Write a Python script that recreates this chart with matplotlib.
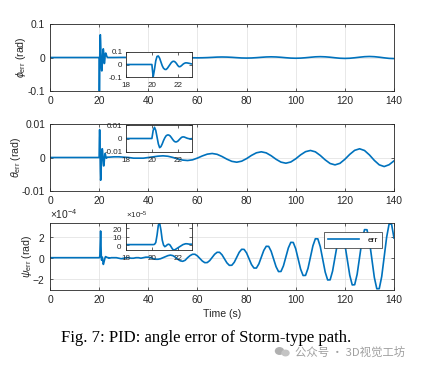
import numpy as np
import matplotlib
matplotlib.use("Agg")
import matplotlib.pyplot as plt
from matplotlib.patches import Ellipse
from matplotlib.ticker import ScalarFormatter

plt.rcParams['font.family'] = ['Liberation Sans', 'DejaVu Sans']
plt.rcParams['mathtext.fontset'] = 'custom'
plt.rcParams['mathtext.rm'] = 'Liberation Sans'
plt.rcParams['mathtext.it'] = 'Liberation Sans:italic'
plt.rcParams['axes.unicode_minus'] = False

# ---------------- data ----------------
# transient part, 0.1 s step from 20.0 s to 23.9 s
t_fast = np.round(np.arange(20.0, 23.95, 0.1), 1)
# slow part: 2 s step (phi, theta) and 1 s step (psi)
t_slow2 = np.arange(24, 141, 2)
t_slow1 = np.arange(24, 141, 1)

phi_fast = [0, -0.1, -0.04, 0.03, 0.065, 0.068, 0.05, 0.02, -0.01, -0.03,
            -0.039, -0.04, -0.03, -0.015, 0.0, 0.015, 0.024, 0.026, 0.02, 0.008,
            -0.008, -0.018, -0.016, -0.008, 0.002, 0.009, 0.013, 0.013, 0.011, 0.009,
            0.006, 0.004, 0.002, 0.001, 0, 0, 0, 0, 0, 0]
phi_slow = [0, 0, 0.0002, 0.0003, 0.0002, 0, -0.0002, -0.0003, -0.0003, -0.0002,
            -0.0001, 0.0002, 0.0005, 0.0006, 0.0005, 0.0002, -0.0003, -0.0008, -0.001, -0.0008,
            -0.0003, 0.0004, 0.0012, 0.0015, 0.0012, 0.0005, -0.0005, -0.0014, -0.0017, -0.0014,
            -0.0005, 0.0006, 0.0016, 0.002, 0.0016, 0.0006, -0.0007, -0.0018, -0.0022, -0.0018,
            -0.0007, 0.0007, 0.002, 0.0025, 0.002, 0.0008, -0.0008, -0.0022, -0.0027, -0.0022,
            -0.0008, 0.0009, 0.0024, 0.003, 0.0024, 0.0009, -0.001, -0.0026, -0.0032]

theta_fast = [0, 0.006, 0.0083, 0.006, 0.001, -0.004, -0.0068, -0.006, -0.004, -0.0015,
              0.0005, 0.002, 0.0026, 0.0026, 0.002, 0.0008, -0.0006, -0.0018, -0.0025, -0.0025,
              -0.002, -0.001, 0.0, 0.0009, 0.0012, 0.0011, 0.0007, 0.0003, 0.0, -0.0002,
              -0.0002, -0.0001, 0.0, 0.0001, 0.0001, 0.0001, 0.0001, 0.0001, 0.0001, 0.0001]
theta_slow = [0.0001, 0.0002, 0.0002, 0.0001, 0.0, -0.0002, -0.0002, -0.0002, 0.0, 0.0002,
              0.0004, 0.0005, 0.00037, 0.00002, -0.00042, -0.00077, -0.0009, -0.0007, -0.00017, 0.00047,
              0.001, 0.0012, 0.00095, 0.0003, -0.0005, -0.00115, -0.0014, -0.0011, -0.00033, 0.00063,
              0.0014, 0.0017, 0.00138, 0.00053, -0.00053, -0.00138, -0.0017, -0.00134, -0.00039, 0.00079,
              0.00174, 0.0021, 0.00169, 0.00061, -0.00071, -0.00179, -0.0022, -0.00174, -0.00054, 0.00094,
              0.00214, 0.0026, 0.00209, 0.00077, -0.00087, -0.00219, -0.0027, -0.00216, -0.001]

# psi in units of 1e-4 rad
psi_fast = [0.05, 0.05, 0.08, 0.3, 1.2, 2.4, 2.63, 1.8, 0.6, 0.0,
            -0.2, -0.1, 0.05, 0.1, 0.0, -0.25, -0.5, -0.6, -0.55, -0.45,
            -0.35, -0.25, -0.15, -0.05, 0.05, 0.1, 0.15, 0.15, 0.12, 0.1,
            0.1, 0.1, 0.08, 0.07, 0.06, 0.05, 0.05, 0.05, 0.05, 0.05]
psi_slow = [0.0, 0.05, 0.05, 0.05, 0.0, -0.05, 0.0, 0.05, 0.05, 0.0,
            0.0, 0.05, 0.05, 0.0, 0.05, 0.1, 0.1, 0.05, -0.05, -0.1,
            -0.1, -0.05, 0.05, 0.15, 0.25, 0.3, 0.25, 0.1, -0.1, -0.25,
            -0.3, -0.2, 0.05, 0.25, 0.38, 0.38, 0.22, -0.025, -0.275, -0.43,
            -0.42, -0.23, 0.075, 0.38, 0.57, 0.57, 0.33, -0.06, -0.45, -0.69,
            -0.68, -0.39, 0.09, 0.57, 0.86, 0.85, 0.51, -0.05, -0.61, -0.95,
            -0.95, -0.55, 0.1, 0.75, 1.15, 1.14, 0.67, -0.075, -0.82, -1.29,
            -1.28, -0.74, 0.125, 0.99, 1.53, 1.52, 0.91, -0.075, -1.06, -1.67,
            -1.66, -0.98, 0.11, 1.2, 1.88, 1.87, 1.11, -0.115, -1.34, -2.1,
            -2.09, -1.25, 0.1, 1.45, 2.29, 2.28, 1.35, -0.15, -1.65, -2.58,
            -2.56, -1.55, 0.1, 1.75, 2.76, 2.75, 1.66, -0.1, -1.86, -2.95,
            -2.94, -1.77, 0.125, 2.02, 3.3, 3.3, 1.94]

t_phi = np.concatenate([[0.0], t_fast, t_slow2])
phi = np.concatenate([[0.0], phi_fast, phi_slow])
t_theta = np.concatenate([[0.0], t_fast, t_slow2])
theta = np.concatenate([[0.0], theta_fast, theta_slow])
t_psi = np.concatenate([[0.0], t_fast, t_slow1])
psi = np.concatenate([[0.05], psi_fast, psi_slow]) * 1e-4

LINE = '#0072BD'
EDGE = '#262626'
GRID = '#dedede'
FS = 7.4
FS_INSET = 5.8


def style_axes(ax, grid=True, size=FS):
    for sp in ax.spines.values():
        sp.set_color(EDGE)
        sp.set_linewidth(0.6)
    ax.tick_params(direction='in', length=2.5, width=0.5, colors=EDGE,
                   labelsize=size, top=True, right=True, pad=3.5)
    if grid:
        ax.grid(True, color=GRID, linewidth=0.5)
        ax.set_axisbelow(True)


fig = plt.figure(figsize=(4.21, 3.69), dpi=100)
W, H = 421.0, 369.0


def px_axes(x0, y0, x1, y1):
    return fig.add_axes([x0 / W, 1 - y1 / H, (x1 - x0) / W, (y1 - y0) / H])


ax1 = px_axes(50, 24, 394, 91)
ax2 = px_axes(50, 124, 394, 191)
ax3 = px_axes(50, 223, 394, 290)

panels = [
    (ax1, t_phi, phi, (-0.1, 0.1), [-0.1, 0, 0.1], ['-0.1', '0', '0.1'],
     r'$\phi_{\rm err}$ (rad)', -0.063),
    (ax2, t_theta, theta, (-0.01, 0.01), [-0.01, 0, 0.01], ['-0.01', '0', '0.01'],
     r'$\theta_{\rm err}$ (rad)', -0.078),
    (ax3, t_psi, psi, (-3.07e-4, 3.4e-4), [-2e-4, 0, 2e-4], None,
     r'$\psi_{\rm err}$ (rad)', -0.047),
]

for ax, t, y, ylim, yt, ytl, ylab, lx in panels:
    ax.plot(t, y, color=LINE, linewidth=1.2, label='err')
    ax.set_xlim(0, 140)
    ax.set_ylim(*ylim)
    ax.set_xticks(np.arange(0, 141, 20))
    ax.set_yticks(yt)
    if ytl is not None:
        ax.set_yticklabels(ytl)
    style_axes(ax)
    ax.set_ylabel(ylab, fontsize=7.6, color=EDGE)
    ax.yaxis.set_label_coords(lx, 0.5)

fmt = ScalarFormatter(useMathText=True)
fmt.set_powerlimits((-4, -4))
ax3.yaxis.set_major_formatter(fmt)
ax3.yaxis.get_offset_text().set_fontsize(FS)
ax3.yaxis.get_offset_text().set_color(EDGE)
ax3.set_xlabel('Time (s)', fontsize=7.6, color=EDGE, labelpad=3)

leg = ax3.legend(loc='upper right', bbox_to_anchor=(0.977, 0.925), fontsize=6,
                 handlelength=3.8, fancybox=False, framealpha=1, edgecolor=EDGE,
                 borderpad=0.45, handletextpad=1.0)
leg.get_frame().set_linewidth(0.5)

# insets
ins1 = px_axes(126, 52, 192, 77)
ins2 = px_axes(126, 125, 192, 152)
ins3 = px_axes(126, 223, 192, 250)

insets = [
    (ins1, t_phi, phi, (-0.1, 0.1), [-0.1, 0, 0.1], ['-0.1', '0', '0.1']),
    (ins2, t_theta, theta, (-0.01, 0.01), [-0.01, 0, 0.01], ['-0.01', '0', '0.01']),
    (ins3, t_psi, psi, (-6e-5, 26.5e-5), [0, 1e-4, 2e-4], None),
]
for ax, t, y, ylim, yt, ytl in insets:
    ax.plot(t, y, color=LINE, linewidth=1.2)
    ax.set_xlim(18, 23.1)
    ax.set_ylim(*ylim)
    ax.set_xticks([18, 20, 22])
    ax.set_yticks(yt)
    if ytl is not None:
        ax.set_yticklabels(ytl)
    ax.set_facecolor('white')
    style_axes(ax, grid=False, size=FS_INSET)
    ax.tick_params(axis='y', pad=2.5)

fmt5 = ScalarFormatter(useMathText=True)
fmt5.set_powerlimits((-5, -5))
ins3.yaxis.set_major_formatter(fmt5)
ins3.yaxis.get_offset_text().set_fontsize(FS_INSET)
ins3.yaxis.get_offset_text().set_color(EDGE)

fig.text(0.49, (H - 338) / H, 'Fig. 7: PID: angle error of Storm-type path.',
         ha='center', va='center', fontsize=12, family='Liberation Serif')
fig.text(0.831, (H - 352) / H, '公众号 · 3D视觉工坊', ha='center', va='center',
         fontsize=8.2, color='#a0a0a0', family=['Noto Sans CJK SC', 'DejaVu Sans'])
# small chat-bubble icon before the watermark text
fig.patches.append(Ellipse((279.5 / W, (H - 351) / H), 8 / W, 6.5 / H,
                           transform=fig.transFigure, color='#b0b0b0'))
fig.patches.append(Ellipse((285.5 / W, (H - 353) / H), 7 / W, 5.5 / H,
                           transform=fig.transFigure, color='#c4c4c4'))

fig.savefig('out.png', dpi=100)
